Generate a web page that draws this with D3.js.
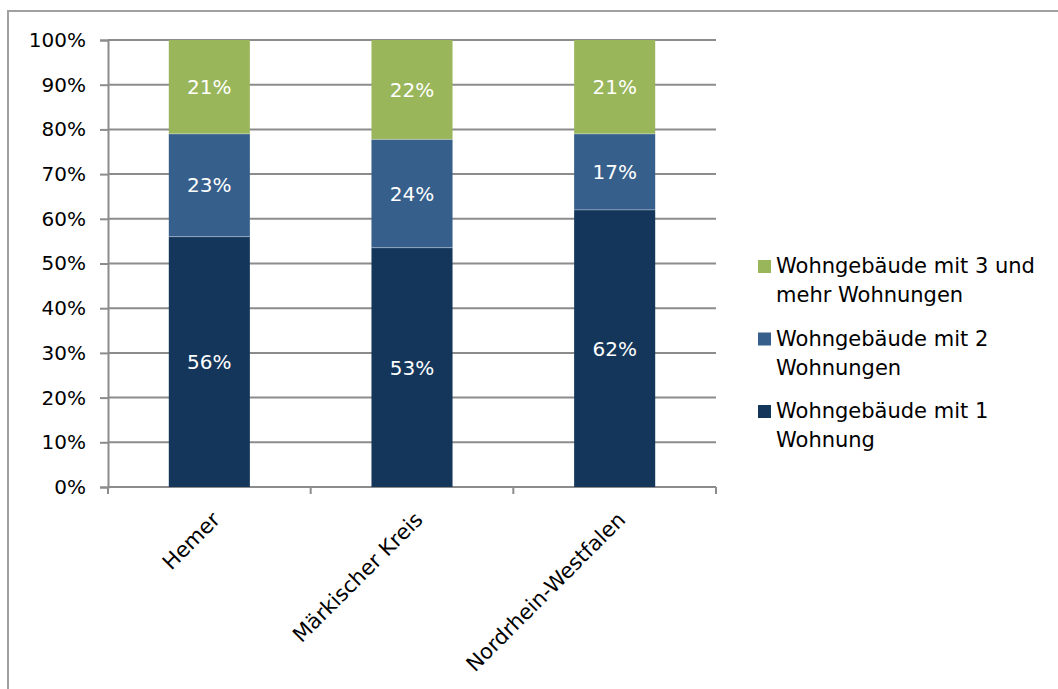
<!DOCTYPE html>
<html>
<head>
<meta charset="utf-8">
<script src="https://cdn.jsdelivr.net/npm/d3@7"></script>
<style>
  html, body { margin: 0; padding: 0; background: #fff; }
  svg { display: block; font-family: "DejaVu Sans", sans-serif; }
</style>
</head>
<body>
<svg id="chart" width="1058" height="689"></svg>
<script>
// Anteil der Wohngebäude nach Anzahl der Wohnungen
const categories = ["Hemer", "Märkischer Kreis", "Nordrhein-Westfalen"];
const oneFlat   = [56, 53, 62];
const twoFlats  = [23, 24, 17];
const threePlus = [21, 22, 21];
const seriesNames = [
  ["Wohngebäude mit 1", "Wohnung"],
  ["Wohngebäude mit 2", "Wohnungen"],
  ["Wohngebäude mit 3 und", "mehr Wohnungen"]
];
const seriesColors = ["#14365b", "#365f8b", "#99b65b"];
const yTicks = [0, 0.1, 0.2, 0.3, 0.4, 0.5, 0.6, 0.7, 0.8, 0.9, 1.0];

const svg = d3.select("#chart");
const W = 1058, H = 689;
const plot = { left: 108, right: 716, top: 40, bottom: 487 };
const gridColor = "#8c8c8c";

// chart frame
svg.append("rect")
  .attr("x", 8).attr("y", 11)
  .attr("width", W + 10).attr("height", H + 10)
  .attr("fill", "none").attr("stroke", "#a0a0a0").attr("stroke-width", 2);

// 100% stack: each category normalised to its sum
const rows = categories.map((c, i) => {
  const total = oneFlat[i] + twoFlats[i] + threePlus[i];
  return { cat: c, s0: oneFlat[i] / total, s1: twoFlats[i] / total, s2: threePlus[i] / total,
           l0: oneFlat[i], l1: twoFlats[i], l2: threePlus[i] };
});
const keys = ["s0", "s1", "s2"];
const stacked = d3.stack().keys(keys)(rows);

const x = d3.scaleBand().domain(categories)
  .range([plot.left, plot.right]).paddingInner(0.6).paddingOuter(0.3);
const y = d3.scaleLinear().domain([0, 1]).range([plot.bottom, plot.top]);

// horizontal gridlines
svg.append("g").selectAll("line").data(yTicks.filter(t => t > 0)).join("line")
  .attr("x1", plot.left).attr("x2", plot.right)
  .attr("y1", d => y(d)).attr("y2", d => y(d))
  .attr("stroke", gridColor).attr("stroke-width", 2);

// y axis
const yAxis = d3.axisLeft(y).tickValues(yTicks).tickFormat(d3.format(".0%")).tickSize(8).tickPadding(14);
const gy = svg.append("g").attr("transform", `translate(${plot.left},0)`).call(yAxis);
gy.select(".domain").attr("stroke", gridColor).attr("stroke-width", 2);
gy.selectAll(".tick line").attr("stroke", gridColor).attr("stroke-width", 2);
gy.selectAll(".tick text").attr("fill", "#000").style("font-size", "20px")
  .style("font-family", "DejaVu Sans, sans-serif");

// x axis: line and ticks at category boundaries
const boundaries = d3.range(categories.length + 1).map(i => plot.left + i * x.step());
svg.append("line").attr("x1", plot.left).attr("x2", plot.right)
  .attr("y1", plot.bottom).attr("y2", plot.bottom)
  .attr("stroke", gridColor).attr("stroke-width", 2);
svg.append("g").selectAll("line").data(boundaries).join("line")
  .attr("x1", d => d).attr("x2", d => d)
  .attr("y1", plot.bottom).attr("y2", plot.bottom + 7)
  .attr("stroke", gridColor).attr("stroke-width", 2);

// bars
const bars = svg.append("g");
stacked.forEach((layer, li) => {
  bars.append("g").selectAll("rect").data(layer).join("rect")
    .attr("x", d => x(d.data.cat))
    .attr("width", x.bandwidth())
    .attr("y", d => y(d[1]))
    .attr("height", d => y(d[0]) - y(d[1]))
    .attr("fill", seriesColors[li]);
});
// thin separators between segments
stacked.slice(0, 2).forEach(layer => {
  bars.append("g").selectAll("line").data(layer).join("line")
    .attr("x1", d => x(d.data.cat)).attr("x2", d => x(d.data.cat) + x.bandwidth())
    .attr("y1", d => y(d[1])).attr("y2", d => y(d[1]))
    .attr("stroke", "#ffffff").attr("stroke-opacity", 0.35).attr("stroke-width", 1);
});

// value labels
const labelKeys = ["l0", "l1", "l2"];
stacked.forEach((layer, li) => {
  svg.append("g").selectAll("text").data(layer).join("text")
    .attr("x", d => x(d.data.cat) + x.bandwidth() / 2)
    .attr("y", d => (y(d[0]) + y(d[1])) / 2)
    .attr("dy", "0.36em")
    .attr("text-anchor", "middle")
    .attr("fill", "#fff").style("font-size", "20px")
    .text(d => d.data[labelKeys[li]] + "%");
});

// rotated category labels, ending just right of each category centre
svg.append("g").selectAll("text").data(categories).join("text")
  .attr("transform", d => `translate(${x(d) + x.bandwidth() / 2 + 12},${plot.bottom + 34}) rotate(-45)`)
  .attr("text-anchor", "end")
  .attr("fill", "#000").style("font-size", "21px")
  .text(d => d);

// legend (top entry = top segment)
const legendOrder = [2, 1, 0];
const lg = svg.append("g").attr("transform", "translate(758,273)");
legendOrder.forEach((si, k) => {
  const g = lg.append("g").attr("transform", `translate(0,${k * 72.5})`);
  g.append("rect").attr("x", 0).attr("y", -13).attr("width", 13).attr("height", 13)
    .attr("fill", seriesColors[si]);
  g.append("text").attr("x", 18).attr("y", 0)
    .attr("fill", "#000").style("font-size", "21px")
    .selectAll("tspan").data(seriesNames[si]).join("tspan")
    .attr("x", 18).attr("dy", (d, j) => j === 0 ? 0 : 29)
    .text(d => d);
});
</script>
</body>
</html>
